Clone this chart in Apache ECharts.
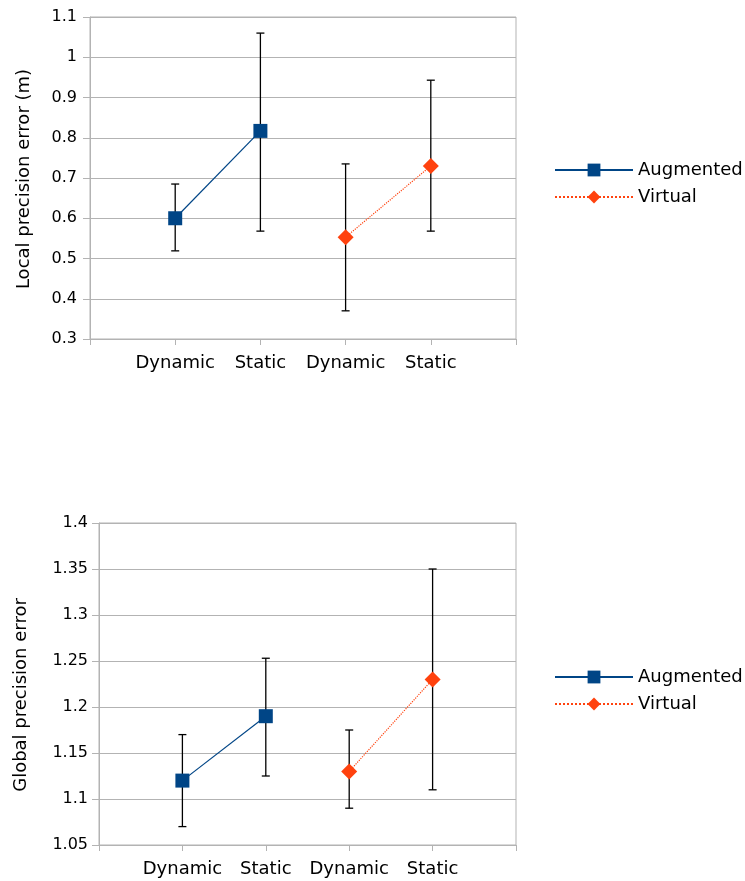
<!DOCTYPE html>
<html>
<head>
<meta charset="utf-8">
<script src="https://cdn.jsdelivr.net/npm/echarts@6/dist/echarts.min.js"></script>
<style>
  html, body { margin: 0; padding: 0; background: #fff; }
  #chart { width: 745px; height: 881px; }
</style>
</head>
<body>
<div id="chart"></div>
<script>
// Category slots: empty padding slots at both ends, points sit on the ticks
const categories = ['', 'Dynamic', 'Static', 'Dynamic', 'Static', ''];
const augmentedSlots = [1, 2];
const virtualSlots = [3, 4];

// Local precision error (m)
const localAugmented = [0.6, 0.817];
const localAugmentedLow = [0.519, 0.568];
const localAugmentedHigh = [0.685, 1.06];
const localVirtual = [0.553, 0.73];
const localVirtualLow = [0.37, 0.568];
const localVirtualHigh = [0.735, 0.943];

// Global precision error
const globalAugmented = [1.12, 1.19];
const globalAugmentedLow = [1.07, 1.125];
const globalAugmentedHigh = [1.17, 1.253];
const globalVirtual = [1.13, 1.23];
const globalVirtualLow = [1.09, 1.11];
const globalVirtualHigh = [1.175, 1.35];

const legendNames = ['Augmented', 'Virtual'];

const FONT = 'DejaVu Sans';
const GRID_COLOR = '#b3b3b3';
const BLUE = '#004586';
const ORANGE = '#ff420e';

function pairs(xs, ys) { return xs.map((x, i) => [x, ys[i]]); }
function triples(xs, lo, hi) { return xs.map((x, i) => [x, lo[i], hi[i]]); }

function errorBars(gridIdx, data) {
  return {
    type: 'custom',
    xAxisIndex: gridIdx,
    yAxisIndex: gridIdx,
    z: 1,
    silent: true,
    encode: { x: 0, y: [1, 2] },
    data: data,
    renderItem: function (params, api) {
      const x = api.value(0);
      const lo = api.coord([x, api.value(1)]);
      const hi = api.coord([x, api.value(2)]);
      const cap = 4;
      const style = { stroke: '#000', lineWidth: 1.3 };
      return {
        type: 'group',
        children: [
          { type: 'line', shape: { x1: lo[0], y1: lo[1], x2: hi[0], y2: hi[1] }, style: style },
          { type: 'line', shape: { x1: lo[0] - cap, y1: lo[1], x2: lo[0] + cap, y2: lo[1] }, style: style },
          { type: 'line', shape: { x1: hi[0] - cap, y1: hi[1], x2: hi[0] + cap, y2: hi[1] }, style: style }
        ]
      };
    }
  };
}

function lineSeries(gridIdx, name, data, isAug) {
  return {
    type: 'line',
    name: name,
    xAxisIndex: gridIdx,
    yAxisIndex: gridIdx,
    z: 3,
    data: data,
    symbol: isAug ? 'rect' : 'diamond',
    symbolSize: isAug ? 14 : 16,
    itemStyle: { color: isAug ? BLUE : ORANGE },
    lineStyle: { color: isAug ? BLUE : ORANGE, width: 1.2, type: isAug ? 'solid' : 'dotted' },
    animation: false
  };
}

function xAxis(gridIdx) {
  return {
    type: 'category',
    gridIndex: gridIdx,
    data: categories,
    boundaryGap: false,
    axisLine: { lineStyle: { color: GRID_COLOR, width: 1 } },
    axisTick: { show: true, length: 6, lineStyle: { color: GRID_COLOR } },
    axisLabel: { color: '#000', fontFamily: FONT, fontSize: 18, margin: 15, interval: 0 },
    splitLine: { show: false }
  };
}

function yAxis(gridIdx, name, min, max, step, gap, labelMargin, namePad) {
  return {
    type: 'value',
    gridIndex: gridIdx,
    min: min,
    max: max,
    interval: step,
    name: name,
    nameLocation: 'middle',
    nameGap: gap,
    nameTextStyle: { color: '#000', fontFamily: FONT, fontSize: 18, padding: namePad },
    axisLine: { show: true, lineStyle: { color: GRID_COLOR, width: 1 } },
    axisTick: { show: true, length: 7, lineStyle: { color: GRID_COLOR } },
    axisLabel: { color: '#000', fontFamily: FONT, fontSize: 16, margin: labelMargin },
    splitLine: { show: true, lineStyle: { color: GRID_COLOR, width: 1 } }
  };
}

function legend(top) {
  return {
    data: legendNames,
    orient: 'vertical',
    left: 549,
    top: top,
    itemWidth: 78,
    itemHeight: 16,
    itemGap: 9,
    textStyle: { color: '#000', fontFamily: FONT, fontSize: 18 },
    selectedMode: false
  };
}

const chart = echarts.init(document.getElementById('chart'), null, { renderer: 'canvas' });
chart.setOption({
  backgroundColor: '#fff',
  animation: false,
  grid: [
    { left: 90, top: 17, width: 426, height: 322, show: true, borderColor: GRID_COLOR, borderWidth: 1 },
    { left: 99, top: 523, width: 417, height: 322, show: true, borderColor: GRID_COLOR, borderWidth: 1 }
  ],
  xAxis: [xAxis(0), xAxis(1)],
  yAxis: [
    yAxis(0, 'Local precision error (m)', 0.3, 1.1, 0.1, 57, 13, [0, 2, 0, 0]),
    yAxis(1, 'Global precision error', 1.05, 1.4, 0.05, 69, 11, [0, 22, 0, 0])
  ],
  legend: [legend(156), legend(663)],
  series: [
    errorBars(0, triples(augmentedSlots, localAugmentedLow, localAugmentedHigh)),
    errorBars(0, triples(virtualSlots, localVirtualLow, localVirtualHigh)),
    lineSeries(0, 'Augmented', pairs(augmentedSlots, localAugmented), true),
    lineSeries(0, 'Virtual', pairs(virtualSlots, localVirtual), false),
    errorBars(1, triples(augmentedSlots, globalAugmentedLow, globalAugmentedHigh)),
    errorBars(1, triples(virtualSlots, globalVirtualLow, globalVirtualHigh)),
    lineSeries(1, 'Augmented', pairs(augmentedSlots, globalAugmented), true),
    lineSeries(1, 'Virtual', pairs(virtualSlots, globalVirtual), false)
  ]
});
</script>
</body>
</html>
